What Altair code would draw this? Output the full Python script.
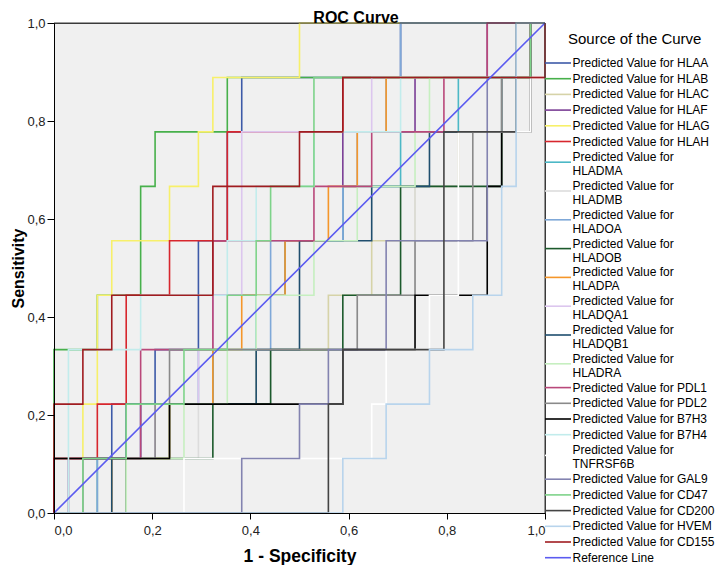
import altair as alt
import pandas as pd

# ROC step curves: corners given as (false-positive count, true-positive count)
N_NEG = 34   # negative cases
N_POS = 9    # positive cases

HLAA = [(0,0),(0,1),(4,1),(4,2),(7,2),(7,3),(10,3),(10,5),(12,5),(12,7),(13,7),(13,8),(24,8),(24,9),(34,9)]
HLAB = [(0,0),(0,3),(3,3),(3,4),(6,4),(6,6),(7,6),(7,7),(12,7),(12,8),(33,8),(33,9),(34,9)]
HLAC = [(0,0),(3,0),(3,1),(8,1),(8,2),(14,2),(14,3),(19,3),(19,4),(22,4),(22,5),(25,5),(25,6),(28,6),(28,7),(31,7),(31,8),(33,8),(33,9),(34,9)]
HLAF = [(0,0),(1,0),(1,1),(6,1),(6,2),(11,2),(11,4),(16,4),(16,5),(20,5),(20,7),(25,7),(25,8),(30,8),(30,9),(34,9)]
HLAG = [(0,0),(0,1),(2,1),(2,2),(3,2),(3,4),(4,4),(4,5),(8,5),(8,6),(10,6),(10,7),(11,7),(11,8),(17,8),(17,9),(34,9)]
HLAH = [(0,0),(0,1),(3,1),(3,2),(5,2),(5,4),(8,4),(8,5),(12,5),(12,7),(20,7),(20,8),(34,8),(34,9)]
HLADMA = [(0,0),(3,0),(3,1),(8,1),(8,2),(11,2),(11,3),(14,3),(14,4),(16,4),(16,5),(20,5),(20,6),(24,6),(24,7),(28,7),(28,8),(32,8),(32,9),(34,9)]
HLADMB = [(0,0),(5,0),(5,1),(10,1),(10,2),(15,2),(15,3),(21,3),(21,4),(25,4),(25,6),(28,6),(28,7),(32,7),(32,8),(33,8),(33,9),(34,9)]
HLADOA = [(0,0),(3,0),(3,1),(6,1),(6,2),(10,2),(10,3),(15,3),(15,5),(20,5),(20,6),(21,6),(21,7),(23,7),(23,8),(24,8),(24,9),(34,9)]
HLADOB = [(0,0),(5,0),(5,1),(11,1),(11,2),(15,2),(15,3),(20,3),(20,4),(24,4),(24,6),(31,6),(31,7),(32,7),(32,9),(34,9)]
HLADPA = [(0,0),(4,0),(4,1),(8,1),(8,2),(11,2),(11,3),(13,3),(13,4),(16,4),(16,5),(19,5),(19,6),(21,6),(21,7),(23,7),(23,8),(33,8),(33,9),(34,9)]
HLADQA1 = [(0,0),(2,0),(2,1),(7,1),(7,2),(10,2),(10,3),(11,3),(11,4),(13,4),(13,7),(22,7),(22,8),(32,8),(32,9),(34,9)]
HLADQB1 = [(0,0),(4,0),(4,1),(5,1),(5,2),(14,2),(14,3),(17,3),(17,5),(22,5),(22,6),(26,6),(26,7),(31,7),(31,8),(32,8),(32,9),(34,9)]
HLADRA = [(0,0),(5,0),(5,1),(9,1),(9,2),(12,2),(12,3),(14,3),(14,4),(18,4),(18,5),(21,5),(21,6),(25,6),(25,7),(26,7),(26,8),(32,8),(32,9),(34,9)]
PDL1 = [(0,0),(0,1),(6,1),(6,3),(11,3),(11,5),(18,5),(18,6),(22,6),(22,7),(27,7),(27,8),(30,8),(30,9),(34,9)]
PDL2 = [(0,0),(2,0),(2,1),(7,1),(7,2),(8,2),(8,3),(21,3),(21,4),(25,4),(25,5),(29,5),(29,7),(31,7),(31,8),(33,8),(33,9),(34,9)]
B7H3 = [(0,0),(0,1),(8,1),(8,2),(20,2),(20,3),(25,3),(25,4),(30,4),(30,6),(31,6),(31,7),(33,7),(33,9),(34,9)]
B7H4 = [(0,0),(1,0),(1,3),(6,3),(6,4),(12,4),(12,5),(14,5),(14,6),(18,6),(18,7),(24,7),(24,8),(32,8),(32,9),(34,9)]
TNFRSF6B = [(0,0),(9,0),(9,1),(22,1),(22,2),(23,2),(23,3),(26,3),(26,4),(28,4),(28,7),(33,7),(33,8),(34,8),(34,9)]
GAL9 = [(0,0),(13,0),(13,1),(17,1),(17,2),(19,2),(19,3),(23,3),(23,5),(30,5),(30,8),(33,8),(33,9),(34,9)]
CD47 = [(0,0),(2,0),(2,1),(5,1),(5,2),(9,2),(9,3),(12,3),(12,4),(14,4),(14,5),(15,5),(15,6),(18,6),(18,8),(33,8),(33,9),(34,9)]
CD200 = [(0,0),(19,0),(19,2),(20,2),(20,3),(27,3),(27,7),(32,7),(32,9),(34,9)]
HVEM = [(0,0),(20,0),(20,1),(23,1),(23,2),(26,2),(26,3),(29,3),(29,4),(31,4),(31,6),(32,6),(32,9),(34,9)]
CD155 = [(0,0),(0,2),(2,2),(2,3),(4,3),(4,4),(11,4),(11,6),(17,6),(17,7),(20,7),(20,8),(34,8),(34,9)]
REFERENCE = [(0,0),(34,9)]

NAMES = ["Predicted Value for HLAA", "Predicted Value for HLAB", "Predicted Value for HLAC",
         "Predicted Value for HLAF", "Predicted Value for HLAG", "Predicted Value for HLAH",
         "Predicted Value for HLADMA", "Predicted Value for HLADMB", "Predicted Value for HLADOA",
         "Predicted Value for HLADOB", "Predicted Value for HLADPA", "Predicted Value for HLADQA1",
         "Predicted Value for HLADQB1", "Predicted Value for HLADRA", "Predicted Value for PDL1",
         "Predicted Value for PDL2", "Predicted Value for B7H3", "Predicted Value for B7H4",
         "Predicted Value for TNFRSF6B", "Predicted Value for GAL9", "Predicted Value for CD47",
         "Predicted Value for CD200", "Predicted Value for HVEM", "Predicted Value for CD155",
         "Reference Line"]
CURVES = [HLAA, HLAB, HLAC, HLAF, HLAG, HLAH, HLADMA, HLADMB, HLADOA, HLADOB, HLADPA,
          HLADQA1, HLADQB1, HLADRA, PDL1, PDL2, B7H3, B7H4, TNFRSF6B, GAL9, CD47, CD200,
          HVEM, CD155, REFERENCE]
COLORS = ["#3d5aa8", "#47b04b", "#d6d3a8", "#7b3f96", "#f7f06a", "#d7262d",
          "#4cb8c6", "#dcdcdc", "#7fa8d8", "#1c5a2c", "#f5962a", "#dcc6ee",
          "#1f4e6e", "#c6efc0", "#b9487a", "#8a8a8a", "#000000", "#c2ecec",
          "#ffffff", "#8383b0", "#7ed38a", "#444444", "#b8d4ec", "#a01c20",
          "#5b5bf0"]
TICKS = [0.0, 0.2, 0.4, 0.6, 0.8, 1.0]

rows = []
for name, curve in zip(NAMES, CURVES):
    for i, (fp, tp) in enumerate(curve):
        rows.append({"series": name, "fpr": fp / N_NEG, "tpr": tp / N_POS, "step": i})
df = pd.DataFrame(rows)

# legend layout table (built from the names)
sym_rows, txt_rows = [], []
y = 40.0
for name in NAMES:
    parts = [name] if len(name) <= 25 else ["Predicted Value for", name[20:]]
    for j, p in enumerate(parts):
        txt_rows.append({"text": p, "ty": y + j * 14.0})
    sym_rows.append({"series": name, "sy": y + (5 if len(parts) > 1 else 0)})
    y += 15.7 if len(parts) == 1 else 28.8
df_sym = pd.DataFrame(sym_rows)
df_txt = pd.DataFrame(txt_rows)

LBL = "replace(format(datum.value, '.1f'), '.', ',')"
color_scale = alt.Scale(domain=NAMES, range=COLORS)

lines = alt.Chart(df).mark_line(strokeWidth=1.6, interpolate="linear").encode(
    x=alt.X("fpr:Q", title="1 - Specificity",
            scale=alt.Scale(domain=[0, 1], nice=False),
            axis=alt.Axis(values=TICKS, labelExpr=LBL, tickSize=6, labelPadding=5,
                          titlePadding=10, grid=False, zindex=1)),
    y=alt.Y("tpr:Q", title="Sensitivity",
            scale=alt.Scale(domain=[0, 1], nice=False),
            axis=alt.Axis(values=TICKS, labelExpr=LBL, tickSize=7, labelPadding=2,
                          titlePadding=0, titleFontSize=16, grid=False, zindex=1)),
    color=alt.Color("series:N", scale=color_scale, legend=None),
    order=alt.Order("step:Q"),
)

frame_top = alt.Chart(pd.DataFrame({"f": [0]})).mark_rule(color="#3a3a3a", strokeWidth=1).encode(
    x=alt.value(0), x2=alt.value(491), y=alt.value(0))
frame_right = alt.Chart(pd.DataFrame({"f": [0]})).mark_rule(color="#3a3a3a", strokeWidth=1).encode(
    x=alt.value(491), y=alt.value(0), y2=alt.value(490))

leg_sym = alt.Chart(df_sym).mark_rule(strokeWidth=1.6).encode(
    x=alt.value(491), x2=alt.value(517),
    y=alt.Y("sy:Q", scale=None, axis=None),
    color=alt.Color("series:N", scale=color_scale, legend=None),
)
leg_txt = alt.Chart(df_txt).mark_text(align="left", baseline="middle", fontSize=12,
                                      font="Liberation Sans", color="black").encode(
    x=alt.value(518.5),
    y=alt.Y("ty:Q", scale=None, axis=None),
    text="text:N",
)
leg_title = alt.Chart(pd.DataFrame({"t": ["Source of the Curve"]})).mark_text(
    align="left", baseline="middle", fontSize=15, font="Liberation Sans", color="black"
).encode(x=alt.value(514), y=alt.value(16), text="t:N")

main_title = alt.Chart(pd.DataFrame({"t": ["ROC Curve"]})).mark_text(
    align="center", baseline="alphabetic", fontSize=16, fontWeight="bold",
    font="Liberation Sans", color="black"
).encode(x=alt.value(302), y=alt.value(-0.5), text="t:N")

chart = alt.layer(lines, frame_top, frame_right, leg_sym, leg_txt, leg_title, main_title).resolve_scale(
    y="independent"
).properties(
    width=491, height=490,
    autosize=alt.AutoSizeParams(type="none"),
    padding={"left": 46, "top": 15, "right": 172, "bottom": 52},
).configure_view(
    fill="#f0f0f0", stroke="#3a3a3a", strokeWidth=1
).configure_axis(
    domainColor="black", tickColor="black", labelFont="Liberation Sans",
    labelFontSize=13, labelColor="#222222", titleFont="Liberation Sans",
    titleFontSize=17.5, titleFontWeight="bold", titleColor="black"
)

chart.save("out.html", embed_options={"renderer": "svg", "actions": False})
